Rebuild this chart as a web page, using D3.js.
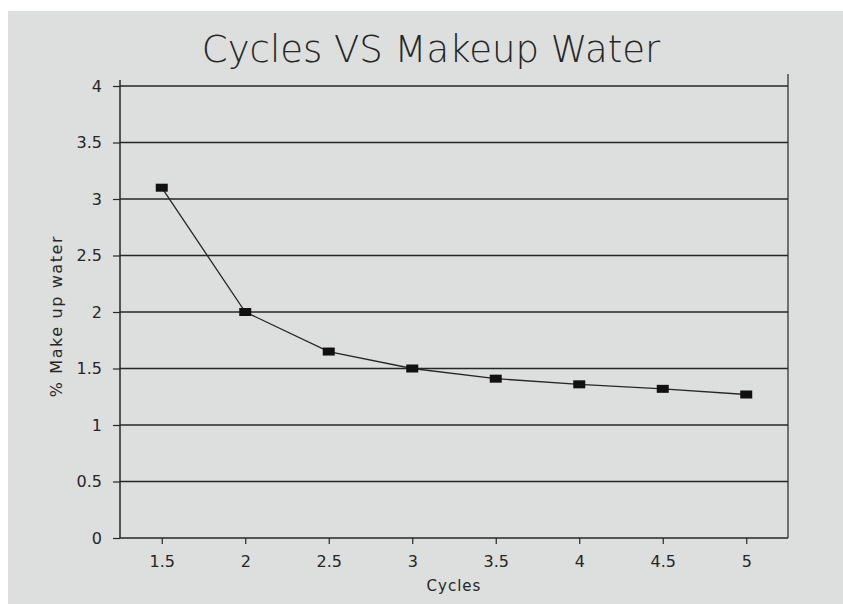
<!DOCTYPE html>
<html>
<head>
<meta charset="utf-8">
<script src="https://cdn.jsdelivr.net/npm/d3@7"></script>
<style>
  html, body { margin: 0; padding: 0; background: #fff; }
  svg { display: block; }
</style>
</head>
<body>
<svg width="843" height="604"></svg>
<script>
const CYCLES = ['1.5', '2', '2.5', '3', '3.5', '4', '4.5', '5'];
const MAKEUP = [3.1, 2.0, 1.65, 1.5, 1.41, 1.36, 1.32, 1.27];
const Y_TICKS = [0, 0.5, 1, 1.5, 2, 2.5, 3, 3.5, 4];

const svg = d3.select('svg');
const margin = { top: 86, right: 55, bottom: 66, left: 120 };
const width = +svg.attr('width') - margin.left - margin.right;
const height = +svg.attr('height') - margin.top - margin.bottom;

// scanned paper background
svg.append('rect')
    .attr('x', 8).attr('y', 11)
    .attr('width', 835).attr('height', 593)
    .attr('fill', '#dcdfde');

const g = svg.append('g').attr('transform', `translate(${margin.left},${margin.top})`);

const x = d3.scalePoint()
    .domain(CYCLES)
    .range([0, width])
    .padding(0.5);

const y = d3.scaleLinear()
    .domain([0, 4])
    .range([height, 0]);

const ink = '#262626';

// horizontal grid lines
g.append('g')
  .selectAll('line')
  .data(Y_TICKS)
  .enter().append('line')
    .attr('x1', 0)
    .attr('x2', width)
    .attr('y1', d => y(d))
    .attr('y2', d => y(d))
    .attr('stroke', ink)
    .attr('stroke-width', 1.6);

// left and right frame lines
g.append('line')
    .attr('x1', 0).attr('x2', 0)
    .attr('y1', -6).attr('y2', height)
    .attr('stroke', ink).attr('stroke-width', 1.5);
g.append('line')
    .attr('x1', width).attr('x2', width)
    .attr('y1', -12).attr('y2', height)
    .attr('stroke', ink).attr('stroke-width', 1.2);

// y-axis
const yAxis = g.append('g')
    .call(d3.axisLeft(y).tickValues(Y_TICKS).tickSize(7).tickPadding(11).tickFormat(d3.format('')));
yAxis.select('.domain').remove();
yAxis.selectAll('line').attr('stroke', ink).attr('stroke-width', 1.2);
yAxis.selectAll('text')
    .attr('fill', ink)
    .attr('font-family', 'DejaVu Sans')
    .attr('font-size', 16);

// x-axis
const xAxis = g.append('g')
    .attr('transform', `translate(0,${height})`)
    .call(d3.axisBottom(x).tickSize(6).tickPadding(12));
xAxis.select('.domain').remove();
xAxis.selectAll('line').attr('stroke', ink).attr('stroke-width', 1.2);
xAxis.selectAll('text')
    .attr('fill', ink)
    .attr('font-family', 'DejaVu Sans')
    .attr('font-size', 16);

// line + markers
const data = CYCLES.map((c, i) => ({ c, v: MAKEUP[i] }));

g.append('path')
    .datum(data)
    .attr('fill', 'none')
    .attr('stroke', ink)
    .attr('stroke-width', 1.3)
    .attr('d', d3.line().x(d => x(d.c)).y(d => y(d.v)));

g.append('g')
  .selectAll('rect')
  .data(data)
  .enter().append('rect')
    .attr('x', d => x(d.c) - 6)
    .attr('y', d => y(d.v) - 4)
    .attr('width', 12)
    .attr('height', 8)
    .attr('fill', '#111');

// title
svg.append('text')
    .attr('x', 431)
    .attr('y', 62)
    .attr('text-anchor', 'middle')
    .attr('font-family', 'DejaVu Sans')
    .attr('font-weight', 200)
    .attr('font-size', 37)
    .attr('fill', ink)
    .text('Cycles VS Makeup Water');

// axis titles
svg.append('text')
    .attr('x', 454)
    .attr('y', 591)
    .attr('text-anchor', 'middle')
    .attr('font-family', 'DejaVu Sans')
    .attr('font-size', 15)
    .attr('letter-spacing', 1)
    .attr('fill', ink)
    .text('Cycles');

svg.append('text')
    .attr('transform', 'translate(62,316)rotate(-90)')
    .attr('text-anchor', 'middle')
    .attr('font-family', 'DejaVu Sans')
    .attr('font-size', 16)
    .attr('letter-spacing', 1.6)
    .attr('fill', ink)
    .text('% Make up water');
</script>
</body>
</html>
